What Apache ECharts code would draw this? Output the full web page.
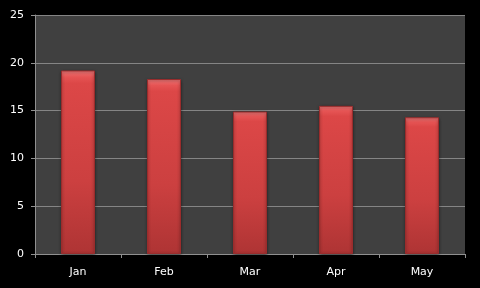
<!DOCTYPE html>
<html><head><meta charset="utf-8">
<script src="https://cdn.jsdelivr.net/npm/echarts@6/dist/echarts.min.js"></script>
<style>html,body{margin:0;padding:0;background:#000;}#c{width:480px;height:288px;}</style>
</head><body><div id="c"></div>
<script>
const categories = ['Jan', 'Feb', 'Mar', 'Apr', 'May'];
const values = [19.2, 18.3, 14.9, 15.5, 14.3];
const yTicks = [0, 5, 10, 15, 20, 25];

const chart = echarts.init(document.getElementById('c'), null, {renderer: 'canvas'});
const font = {color: '#ffffff', fontSize: 11, fontFamily: 'DejaVu Sans'};
chart.setOption({
  backgroundColor: '#000000',
  animation: false,
  grid: {left: 35, right: 15, top: 15, bottom: 34, show: true, backgroundColor: '#404040', borderWidth: 0},
  xAxis: {
    type: 'category', data: categories,
    axisLine: {lineStyle: {color: '#909090'}},
    axisTick: {show: true, length: 4, lineStyle: {color: '#909090'}},
    axisLabel: Object.assign({margin: 13}, font)
  },
  yAxis: {
    type: 'value', min: yTicks[0], max: yTicks[yTicks.length - 1], interval: 5,
    axisLine: {show: true, lineStyle: {color: '#909090'}},
    axisTick: {show: true, length: 4, lineStyle: {color: '#909090'}},
    splitLine: {lineStyle: {color: '#858585'}},
    axisLabel: Object.assign({margin: 11}, font)
  },
  series: [{
    type: 'bar', data: values, barWidth: 34,
    itemStyle: {
      color: new echarts.graphic.LinearGradient(0, 0, 0, 1, [
        {offset: 0, color: '#f47c7c'},
        {offset: 0.035, color: '#e65454'},
        {offset: 0.07, color: '#dc4747'},
        {offset: 0.6, color: '#cc4040'},
        {offset: 1, color: '#ae3434'}
      ]),
      borderColor: '#9a2c2c', borderWidth: 1,
      shadowColor: 'rgba(0,0,0,0.5)', shadowBlur: 3, shadowOffsetY: 1
    }
  }]
});
</script></body></html>
